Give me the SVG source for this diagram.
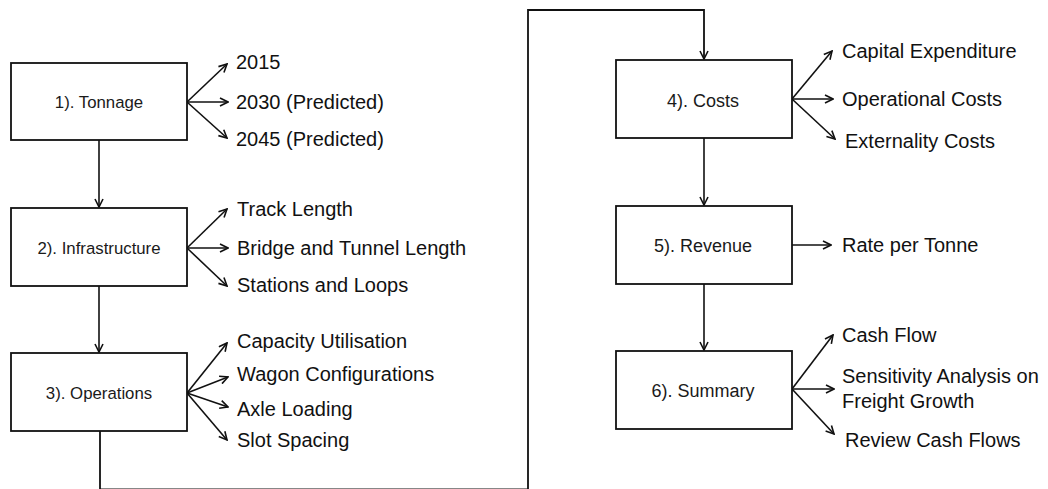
<svg xmlns="http://www.w3.org/2000/svg" width="1048" height="489" viewBox="0 0 1048 489">
  <style>
    .box { fill: #ffffff; stroke: #111111; stroke-width: 1.8; }
    .step { font-family: "Liberation Sans", Arial, sans-serif; font-size: 16.8px; fill: #1a1a1a; text-anchor: middle; }
    .step-r { font-size: 18px; }
    .item { font-family: "Liberation Sans", Arial, sans-serif; font-size: 20px; fill: #111111; }
    .link { fill: none; stroke: #111111; stroke-width: 1.6; marker-end: url(#arrow); }
    .flow { fill: none; stroke: #111111; stroke-width: 1.8; }
  </style>
  <defs>
    <marker id="arrow" viewBox="0 0 10 10" refX="9" refY="5" markerWidth="10" markerHeight="10" markerUnits="userSpaceOnUse" orient="auto">
      <path d="M1,1 L9,5 L1,9" fill="none" stroke="#111111" stroke-width="1.6"/>
    </marker>
  </defs>
  <rect width="1048" height="489" fill="#ffffff"/>

  <!-- connectors -->
  <g id="connectors">
    <!-- main flow between steps -->
    <line class="link" x1="99" y1="140" x2="99" y2="207"/>
    <line class="link" x1="99" y1="286" x2="99" y2="352"/>
    <path class="flow" d="M100,431 V489.3 H528 V10 H704 V59" marker-end="url(#arrow)"/>
    <line class="link" x1="704" y1="138" x2="704" y2="205"/>
    <line class="link" x1="704" y1="284" x2="704" y2="350"/>

    <!-- 1). Tonnage outputs -->
    <line class="link" x1="187" y1="102" x2="227" y2="64"/>
    <line class="link" x1="187" y1="102" x2="228" y2="102"/>
    <line class="link" x1="187" y1="102" x2="227" y2="138"/>

    <!-- 2). Infrastructure outputs -->
    <line class="link" x1="187" y1="248" x2="227" y2="209"/>
    <line class="link" x1="187" y1="248" x2="228" y2="248"/>
    <line class="link" x1="187" y1="248" x2="227" y2="286"/>

    <!-- 3). Operations outputs -->
    <line class="link" x1="187" y1="393" x2="227" y2="343"/>
    <line class="link" x1="187" y1="393" x2="228" y2="377"/>
    <line class="link" x1="187" y1="393" x2="228" y2="407"/>
    <line class="link" x1="187" y1="393" x2="227" y2="440"/>

    <!-- 4). Costs outputs -->
    <line class="link" x1="792" y1="99" x2="832" y2="51"/>
    <line class="link" x1="792" y1="99" x2="833" y2="99"/>
    <line class="link" x1="792" y1="99" x2="835" y2="139"/>

    <!-- 5). Revenue output -->
    <line class="link" x1="792" y1="245" x2="831" y2="245"/>

    <!-- 6). Summary outputs -->
    <line class="link" x1="792" y1="389" x2="833" y2="335"/>
    <line class="link" x1="792" y1="389" x2="834" y2="389"/>
    <line class="link" x1="792" y1="389" x2="834" y2="434"/>
  </g>

  <!-- steps -->
  <g id="tonnage">
    <rect class="box" x="11" y="63" width="176" height="77"/>
    <text class="step" x="99" y="108">1). Tonnage</text>
  </g>
  <g id="infrastructure">
    <rect class="box" x="11" y="208" width="176" height="78"/>
    <text class="step" x="99" y="254">2). Infrastructure</text>
  </g>
  <g id="operations">
    <rect class="box" x="11" y="353" width="176" height="78"/>
    <text class="step" x="99" y="399">3). Operations</text>
  </g>
  <g id="costs">
    <rect class="box" x="616" y="60" width="176" height="78"/>
    <text class="step step-r" x="703" y="107">4). Costs</text>
  </g>
  <g id="revenue">
    <rect class="box" x="616" y="206" width="176" height="78"/>
    <text class="step step-r" x="703" y="252">5). Revenue</text>
  </g>
  <g id="summary">
    <rect class="box" x="616" y="351" width="176" height="78"/>
    <text class="step step-r" x="703" y="397">6). Summary</text>
  </g>

  <!-- output items -->
  <g id="tonnage-items">
    <text class="item" x="236" y="69">2015</text>
    <text class="item" x="236" y="109">2030 (Predicted)</text>
    <text class="item" x="236" y="146">2045 (Predicted)</text>
  </g>
  <g id="infrastructure-items">
    <text class="item" x="237" y="216">Track Length</text>
    <text class="item" x="237" y="255">Bridge and Tunnel Length</text>
    <text class="item" x="237" y="292">Stations and Loops</text>
  </g>
  <g id="operations-items">
    <text class="item" x="237" y="348">Capacity Utilisation</text>
    <text class="item" x="237" y="381">Wagon Configurations</text>
    <text class="item" x="237" y="416">Axle Loading</text>
    <text class="item" x="237" y="447">Slot Spacing</text>
  </g>
  <g id="costs-items">
    <text class="item" x="842" y="58">Capital Expenditure</text>
    <text class="item" x="842" y="106">Operational Costs</text>
    <text class="item" x="845" y="148">Externality Costs</text>
  </g>
  <g id="revenue-items">
    <text class="item" x="842" y="252">Rate per Tonne</text>
  </g>
  <g id="summary-items">
    <text class="item" x="842" y="342">Cash Flow</text>
    <text class="item" x="842" y="383">Sensitivity Analysis on</text>
    <text class="item" x="842" y="408">Freight Growth</text>
    <text class="item" x="845" y="447">Review Cash Flows</text>
  </g>
</svg>
